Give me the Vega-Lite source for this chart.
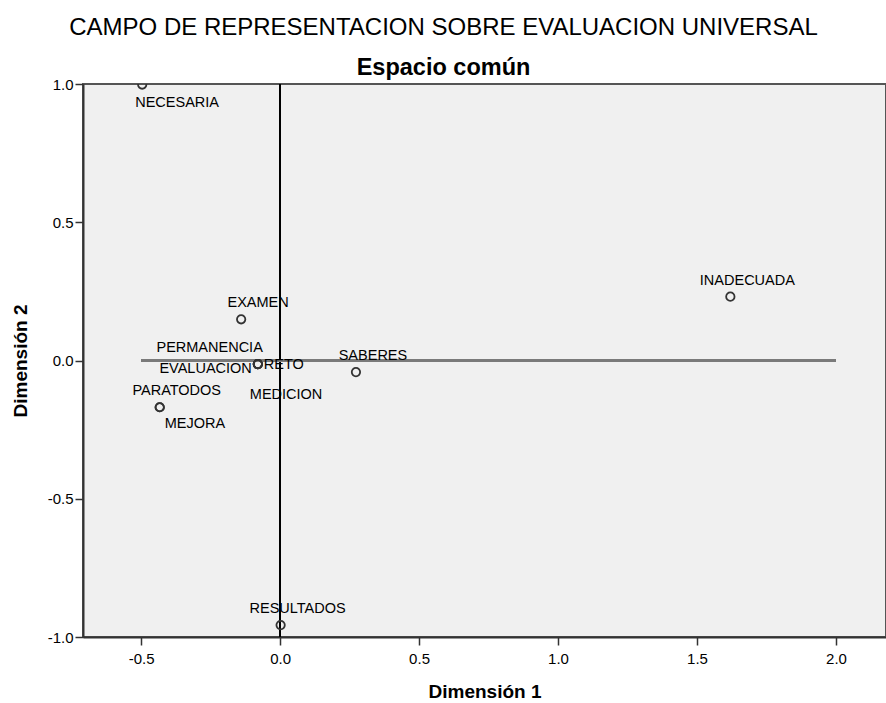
{
  "$schema": "https://vega.github.io/schema/vega-lite/v6.json",
  "width": 803,
  "height": 553,
  "autosize": {"type": "none"},
  "padding": {"left": 83, "top": 84, "right": 0, "bottom": 66},
  "background": "white",
  "config": {
    "font": "Liberation Sans",
    "view": {"fill": "#F0F0F0", "stroke": "#555555", "strokeWidth": 2},
    "axis": {
      "grid": false,
      "domainColor": "#333333",
      "domainWidth": 2,
      "tickColor": "#333333",
      "tickWidth": 1.5,
      "tickSize": 8,
      "labelFont": "Liberation Sans",
      "labelFontSize": 15,
      "labelColor": "#000000",
      "titleFont": "Liberation Sans",
      "titleFontSize": 19,
      "titleFontWeight": "bold",
      "titleColor": "#000000"
    }
  },
  "title": {
    "text": "CAMPO DE REPRESENTACION SOBRE EVALUACION UNIVERSAL",
    "subtitle": "Espacio común",
    "font": "Liberation Sans",
    "fontSize": 24,
    "fontWeight": "normal",
    "color": "#000000",
    "subtitleFont": "Liberation Sans",
    "subtitleFontSize": 23.5,
    "subtitleFontWeight": "bold",
    "subtitleColor": "#000000",
    "subtitlePadding": 16,
    "anchor": "middle",
    "frame": "group",
    "dx": -41,
    "offset": -2
  },
  "data": {
    "values": [
      {"name": "NECESARIA", "d1": -0.496, "d2": 0.998},
      {"name": "INADECUADA", "d1": 1.62, "d2": 0.231},
      {"name": "EXAMEN", "d1": -0.14, "d2": 0.149},
      {"name": "PERMANENCIA", "d1": -0.08, "d2": -0.013},
      {"name": "EVALUACION", "d1": -0.08, "d2": -0.013},
      {"name": "RETO", "d1": -0.08, "d2": -0.013},
      {"name": "MEDICION", "d1": -0.08, "d2": -0.013},
      {"name": "SABERES", "d1": 0.273, "d2": -0.042},
      {"name": "PARATODOS", "d1": -0.433, "d2": -0.169},
      {"name": "MEJORA", "d1": -0.433, "d2": -0.169},
      {"name": "RESULTADOS", "d1": 0.002, "d2": -0.957}
    ]
  },
  "encoding": {
    "x": {
      "field": "d1", "type": "quantitative",
      "scale": {"domain": [-0.709, 2.18], "nice": false, "zero": false},
      "axis": {"title": "Dimensión 1", "values": [-0.5, 0, 0.5, 1, 1.5, 2], "labelExpr": "replace(format(datum.value, '.1f'), '\u2212', '-')", "labelPadding": 6, "titleY": 60, "titleBaseline": "alphabetic"}
    },
    "y": {
      "field": "d2", "type": "quantitative",
      "scale": {"domain": [-1, 1], "nice": false, "zero": false},
      "axis": {"title": "Dimensión 2", "values": [-1, -0.5, 0, 0.5, 1], "labelExpr": "replace(format(datum.value, '.1f'), '\u2212', '-')", "labelPadding": 2, "titleX": -63, "titleBaseline": "middle"}
    }
  },
  "layer": [
    {
      "mark": {"type": "rule", "color": "#000000", "strokeWidth": 1.2},
      "encoding": {"x": {"datum": 0}, "y": {"datum": -1}, "y2": {"datum": 1}}
    },
    {
      "mark": {"type": "rule", "color": "#7a7a7a", "strokeWidth": 2},
      "encoding": {"y": {"datum": 0}, "x": {"datum": -0.5}, "x2": {"datum": 2.0}}
    },
    {
      "mark": {"type": "point", "shape": "circle", "filled": false, "size": 70, "stroke": "#333333", "strokeWidth": 1.8, "opacity": 1, "clip": true}
    },
    {
      "transform": [{"filter": {"field": "name", "oneOf": ["EXAMEN", "SABERES", "PARATODOS", "RESULTADOS", "INADECUADA"]}}],
      "mark": {"type": "text", "fontSize": 14.5, "align": "center", "baseline": "alphabetic", "dx": 17, "dy": -12, "color": "#000000"},
      "encoding": {"text": {"field": "name"}}
    },
    {
      "transform": [{"filter": {"field": "name", "equal": "NECESARIA"}}],
      "mark": {"type": "text", "fontSize": 14.5, "align": "left", "baseline": "alphabetic", "dx": -7, "dy": 22, "color": "#000000"},
      "encoding": {"text": {"field": "name"}}
    },
    {
      "transform": [{"filter": {"field": "name", "equal": "PERMANENCIA"}}],
      "mark": {"type": "text", "fontSize": 14.5, "align": "right", "baseline": "alphabetic", "dx": 5, "dy": -12, "color": "#000000"},
      "encoding": {"text": {"field": "name"}}
    },
    {
      "transform": [{"filter": {"field": "name", "equal": "EVALUACION"}}],
      "mark": {"type": "text", "fontSize": 14.5, "align": "right", "baseline": "alphabetic", "dx": -6, "dy": 9, "color": "#000000"},
      "encoding": {"text": {"field": "name"}}
    },
    {
      "transform": [{"filter": {"field": "name", "equal": "RETO"}}],
      "mark": {"type": "text", "fontSize": 14.5, "align": "left", "baseline": "alphabetic", "dx": 6, "dy": 5, "color": "#000000"},
      "encoding": {"text": {"field": "name"}}
    },
    {
      "transform": [{"filter": {"field": "name", "equal": "MEDICION"}}],
      "mark": {"type": "text", "fontSize": 14.5, "align": "left", "baseline": "alphabetic", "dx": -8, "dy": 35, "color": "#000000"},
      "encoding": {"text": {"field": "name"}}
    },
    {
      "transform": [{"filter": {"field": "name", "equal": "MEJORA"}}],
      "mark": {"type": "text", "fontSize": 14.5, "align": "left", "baseline": "alphabetic", "dx": 5, "dy": 21, "color": "#000000"},
      "encoding": {"text": {"field": "name"}}
    }
  ]
}
